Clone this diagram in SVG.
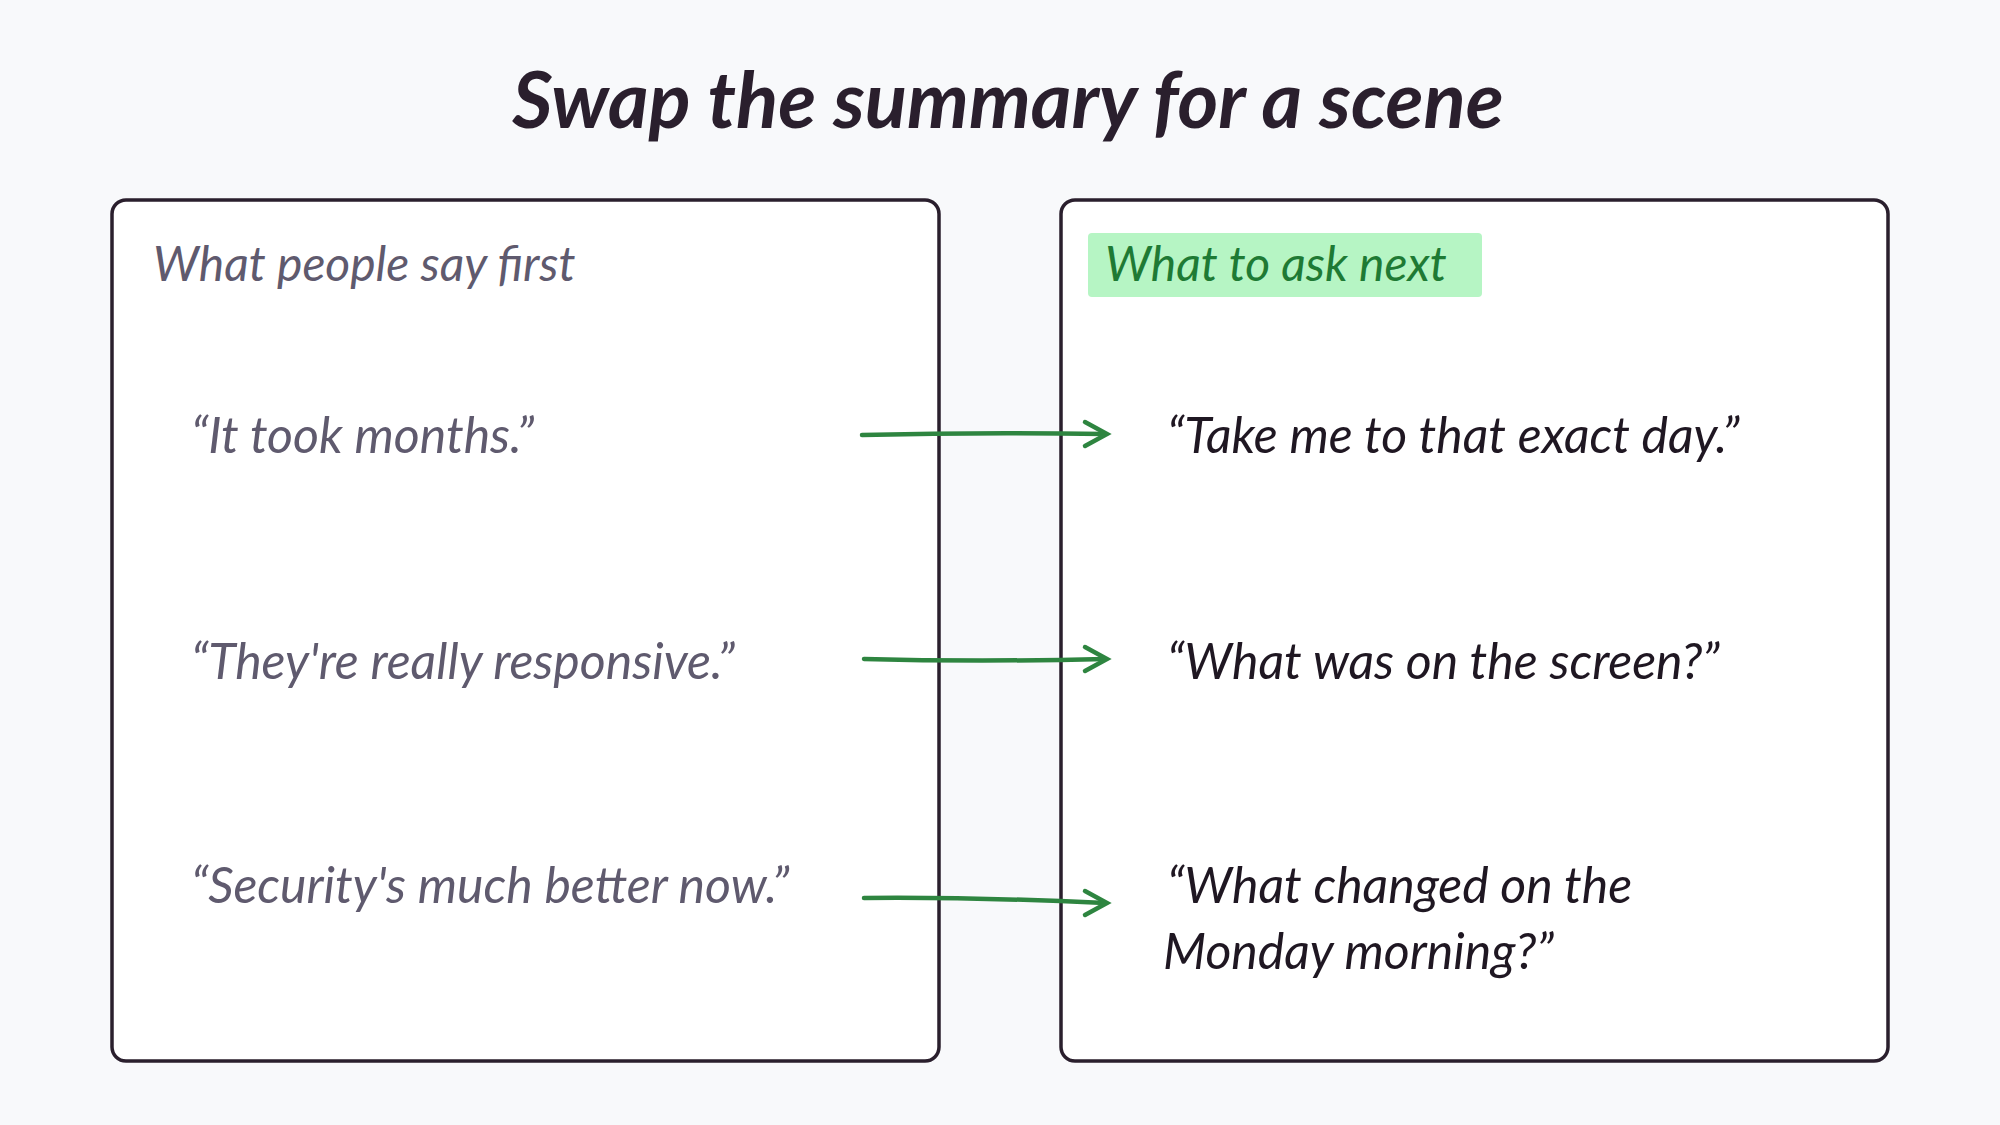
<svg xmlns="http://www.w3.org/2000/svg" width="2000" height="1125" viewBox="0 0 2000 1125">
<style>
.t{font-family:"Lato","Liberation Sans",sans-serif;font-style:italic}
.box{fill:#fff;stroke:#2a1f2d;stroke-width:3.5}
.hd{font-size:48px;fill:#5f5a6e}
.l{font-size:50px;fill:#5f5a6e}
.r{font-size:50px;fill:#1f1722}
.c{fill:none;stroke:#2e8540;stroke-width:4.5;stroke-linecap:round}
</style>
<rect width="2000" height="1125" fill="#f8f9fb"/>
<text class="t" x="1008" y="128" text-anchor="middle" font-size="78" font-weight="bold" fill="#2a1f2d">Swap the summary for a scene</text>
<g id="left"><rect class="box" x="112" y="200" width="827" height="861" rx="14"/>
<text class="t hd" x="153" y="281">What people say first</text>
<text class="t l" x="191" y="453">“It took months.”</text>
<text class="t l" x="191" y="679">“They're really responsive.”</text>
<text class="t l" x="191" y="903">“Security's much better now.”</text></g>
<g id="right"><rect class="box" x="1061" y="200" width="827" height="861" rx="14"/>
<rect x="1088" y="233" width="394" height="64" rx="4" fill="#b6f5c4"/>
<text class="t hd" x="1105" y="281" style="fill:#1e7a34">What to ask next</text>
<text class="t r" x="1167" y="453">“Take me to that exact day.”</text>
<text class="t r" x="1167" y="679">“What was on the screen?”</text>
<text class="t r" x="1167" y="903">“What changed on the</text>
<text class="t r" x="1163" y="969">Monday morning?”</text></g>
<g id="connectors">
<path class="c" d="M862,435 Q980,432 1105,434"/>
<path class="c" d="M1085,422 L1107,434 L1085,446"/>
<path class="c" d="M864,659 Q980,662 1105,659"/>
<path class="c" d="M1085,647 L1107,659 L1085,671"/>
<path class="c" d="M864,898 Q980,897 1105,903"/>
<path class="c" d="M1085,891 L1107,903 L1085,915"/>
</g>
</svg>
